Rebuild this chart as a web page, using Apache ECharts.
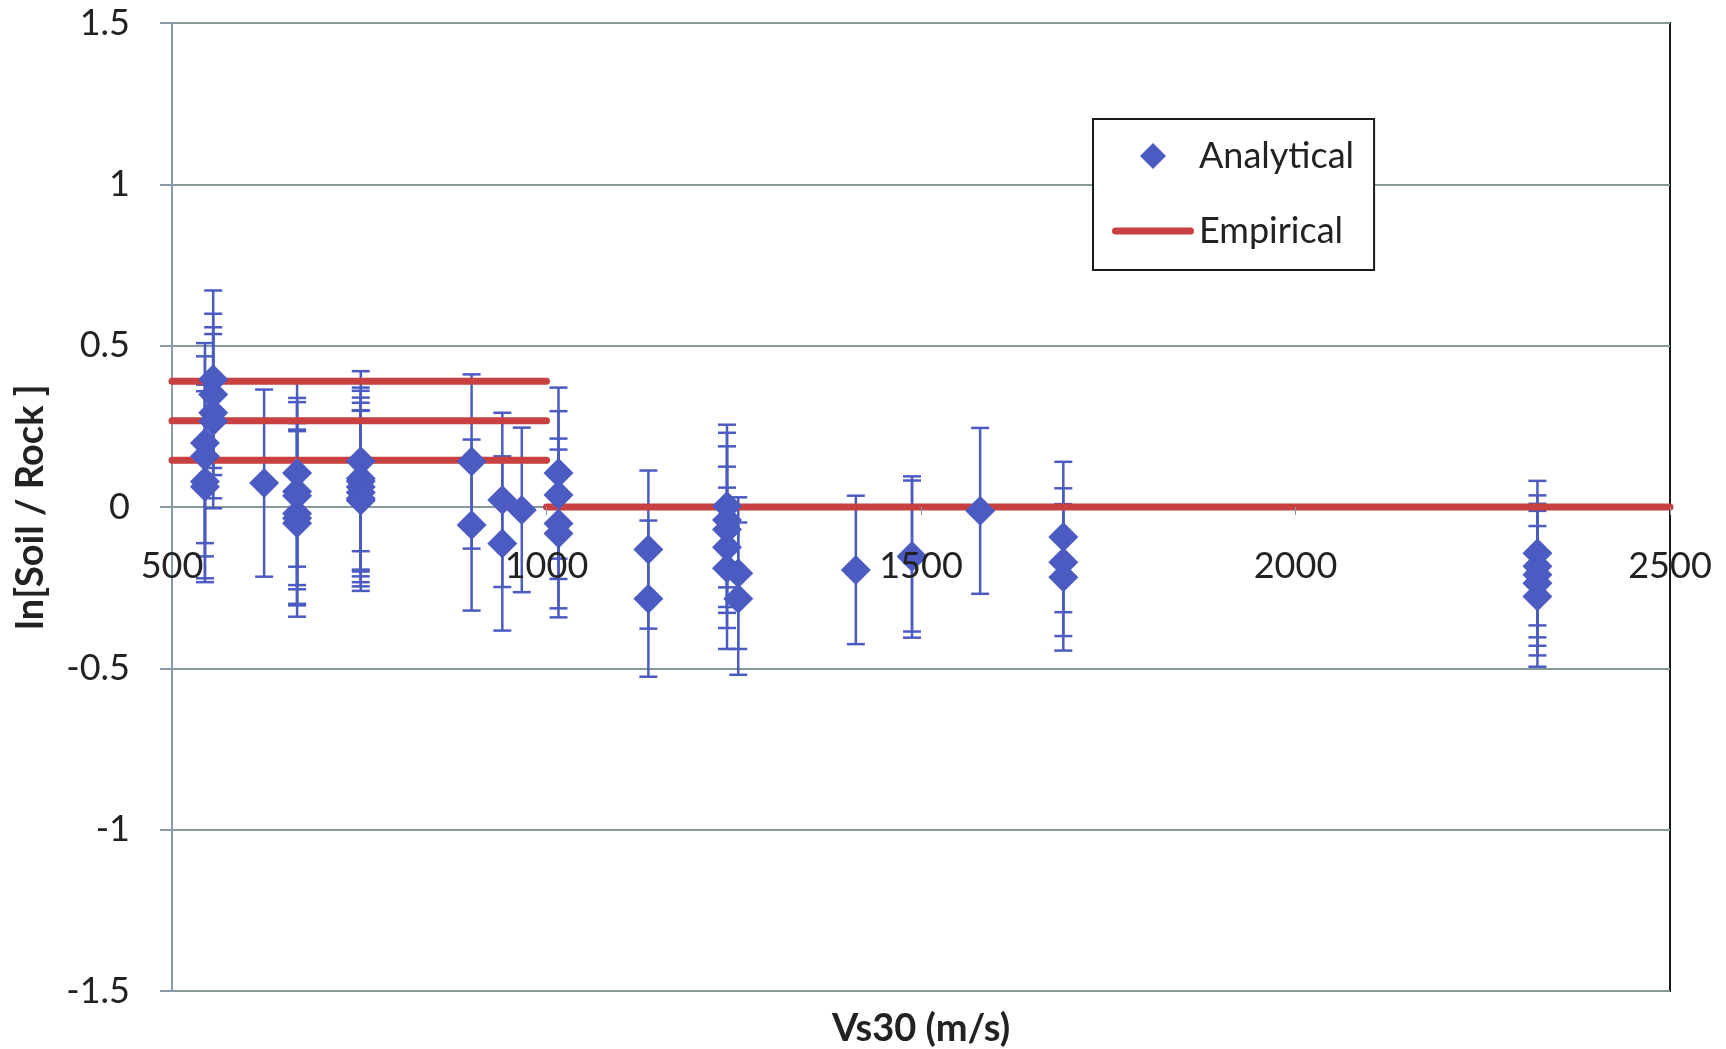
<!DOCTYPE html>
<html>
<head>
<meta charset="utf-8">
<script src="https://cdn.jsdelivr.net/npm/echarts@6/dist/echarts.min.js"></script>
<style>
  html, body { margin: 0; padding: 0; background: #ffffff; }
  #chart { width: 1726px; height: 1049px; }
</style>
</head>
<body>
<div id="chart"></div>
<script>
// ---- Data ----
// Analytical points: Vs30 (m/s), ln[Soil/Rock], error-bar half width
const vs30 = [
  544, 544, 544, 544, 555, 555, 555, 555,
  623,
  667, 667, 667, 667, 667, 667,
  752, 752, 752, 752, 752, 752, 752,
  900, 900,
  941, 941,
  967,
  1016, 1016, 1016, 1016,
  1136, 1136,
  1241, 1241, 1241, 1241, 1241, 1256, 1256,
  1413,
  1488, 1488,
  1579,
  1690, 1690, 1690,
  2323, 2323, 2323, 2323, 2323
];
const lnRatio = [
  0.198, 0.157, 0.079, 0.063, 0.396, 0.349, 0.292, 0.266,
  0.074,
  0.105, 0.048, 0.035, -0.020, -0.035, -0.050,
  0.142, 0.088, 0.080, 0.062, 0.045, 0.026, 0.020,
  0.141, -0.056,
  0.022, -0.113,
  -0.009,
  0.105, 0.037, -0.051, -0.082,
  -0.132, -0.284,
  0.003, -0.040, -0.070, -0.125, -0.190, -0.205, -0.284,
  -0.195,
  -0.155, -0.152,
  -0.012,
  -0.093, -0.171, -0.218,
  -0.143, -0.184, -0.210, -0.236, -0.277
];
const errHalf = [
  0.310, 0.310, 0.300, 0.296, 0.275, 0.250, 0.265, 0.270,
  0.290,
  0.290, 0.290, 0.290, 0.280, 0.270, 0.290,
  0.279, 0.282, 0.280, 0.277, 0.278, 0.272, 0.280,
  0.270, 0.265,
  0.270, 0.270,
  0.255,
  0.265, 0.260, 0.263, 0.260,
  0.245, 0.242,
  0.252, 0.270, 0.258, 0.250, 0.250, 0.235, 0.236,
  0.230,
  0.250, 0.234,
  0.257,
  0.233, 0.229, 0.227,
  0.224, 0.220, 0.220, 0.224, 0.218
];

// Empirical segments
const empSeg1X = [500, 1000], empSeg1Y = [0.39, 0.39];
const empSeg2X = [500, 1000], empSeg2Y = [0.267, 0.267];
const empSeg3X = [500, 1000], empSeg3Y = [0.145, 0.145];
const empSeg4X = [1000, 2500], empSeg4Y = [0.0, 0.0];

// Axis ticks
const xTicks = [500, 1000, 1500, 2000, 2500];
const yTicks = [-1.5, -1, -0.5, 0, 0.5, 1, 1.5];

// ---- Build options ----
const BLUE = '#4b5bc2';
const RED = '#c8403f';
const FONT = 'Lato';
const GRID_TOP = 23, GRID_BOTTOM = 58, CHART_H = 1049;
const plotH = CHART_H - GRID_TOP - GRID_BOTTOM;
// distance of the value 0 above the plot bottom (x axis crosses at 0)
const zeroOffset = plotH * (0 - yTicks[0]) / (yTicks[yTicks.length - 1] - yTicks[0]);

const scatterData = vs30.map((x, i) => [x, lnRatio[i]]);
const errData = vs30.map((x, i) => [x, lnRatio[i] - errHalf[i], lnRatio[i] + errHalf[i]]);
const seg = (xs, ys) => xs.map((x, i) => [x, ys[i]]);

const empStyle = {
  type: 'line', name: 'Empirical', symbol: 'none', z: 3,
  lineStyle: { color: RED, width: 7, cap: 'round' },
  itemStyle: { color: RED },
  silent: true
};

const chart = echarts.init(document.getElementById('chart'), null, { renderer: 'canvas' });
chart.setOption({
  animation: false,
  backgroundColor: '#ffffff',
  textStyle: { fontFamily: FONT },
  grid: {
    left: 172, right: 56, top: GRID_TOP, bottom: GRID_BOTTOM,
    outerBoundsMode: 'none', containLabel: false,
    show: true, borderColor: '#1a1a1a', borderWidth: 2, backgroundColor: '#ffffff'
  },
  legend: {
    data: [
      { name: 'Analytical', icon: 'path://M13,0 L26,13 L13,26 L0,13 Z' },
      { name: 'Empirical', icon: 'path://M3.5,0 L78.5,0 Q82,0 82,3.5 Q82,7 78.5,7 L3.5,7 Q0,7 0,3.5 Q0,0 3.5,0 Z' }
    ],
    symbolKeepAspect: true,
    orient: 'vertical',
    left: 1093, top: 119,
    padding: [19, 20, 21, 19],
    itemGap: 39,
    itemWidth: 82, itemHeight: 26,
    borderColor: '#1a1a1a', borderWidth: 2,
    backgroundColor: '#ffffff',
    textStyle: { fontFamily: FONT, fontSize: 36, color: '#222222' }
  },
  xAxis: {
    type: 'value', min: xTicks[0], max: xTicks[xTicks.length - 1], interval: 500,
    position: 'bottom', offset: -zeroOffset, z: 10,
    name: 'Vs30 (m/s)', nameLocation: 'middle', nameGap: 503,
    nameTextStyle: { fontFamily: FONT, fontWeight: 'bold', fontSize: 38, color: '#222222' },
    axisLine: { show: false, onZero: false },
    axisTick: { show: true, length: 8, lineStyle: { color: '#849a98', width: 1 } },
    axisLabel: { margin: 41, fontSize: 36, color: '#222222', fontFamily: FONT, formatter: v => String(v) },
    splitLine: { show: false }
  },
  yAxis: {
    type: 'value', min: yTicks[0], max: yTicks[yTicks.length - 1], interval: 0.5,
    name: 'ln[Soil / Rock ]', nameLocation: 'middle', nameRotate: 90, nameGap: 122,
    nameTextStyle: { fontFamily: FONT, fontWeight: 'bold', fontSize: 38, color: '#222222' },
    axisLine: { show: true, onZero: false, lineStyle: { color: '#8a9aa8', width: 2 } },
    axisTick: { show: true, length: 12, inside: false, lineStyle: { color: '#8a9aa8', width: 2 } },
    axisLabel: { margin: 42, fontSize: 36, color: '#222222', fontFamily: FONT, formatter: v => String(v) },
    splitLine: { show: true, lineStyle: { color: '#849a98', width: 2 } }
  },
  series: [
    {
      type: 'custom', name: 'AnalyticalError', z: 2, silent: true,
      data: errData,
      encode: { x: 0, y: [1, 2] },
      renderItem: function (params, api) {
        const x = api.value(0);
        const lo = api.coord([x, api.value(1)]);
        const hi = api.coord([x, api.value(2)]);
        const hw = 9;
        const st = { stroke: BLUE, lineWidth: 2.5 };
        return {
          type: 'group',
          children: [
            { type: 'line', shape: { x1: lo[0], y1: lo[1], x2: hi[0], y2: hi[1] }, style: st },
            { type: 'line', shape: { x1: lo[0] - hw, y1: lo[1], x2: lo[0] + hw, y2: lo[1] }, style: st },
            { type: 'line', shape: { x1: hi[0] - hw, y1: hi[1], x2: hi[0] + hw, y2: hi[1] }, style: st }
          ]
        };
      }
    },
    Object.assign({}, empStyle, { data: seg(empSeg1X, empSeg1Y) }),
    Object.assign({}, empStyle, { data: seg(empSeg2X, empSeg2Y) }),
    Object.assign({}, empStyle, { data: seg(empSeg3X, empSeg3Y) }),
    Object.assign({}, empStyle, { data: seg(empSeg4X, empSeg4Y) }),
    {
      type: 'scatter', name: 'Analytical', z: 4,
      symbol: 'diamond', symbolSize: 30,
      itemStyle: { color: BLUE, opacity: 1 },
      data: scatterData
    }
  ]
});
</script>
</body>
</html>
